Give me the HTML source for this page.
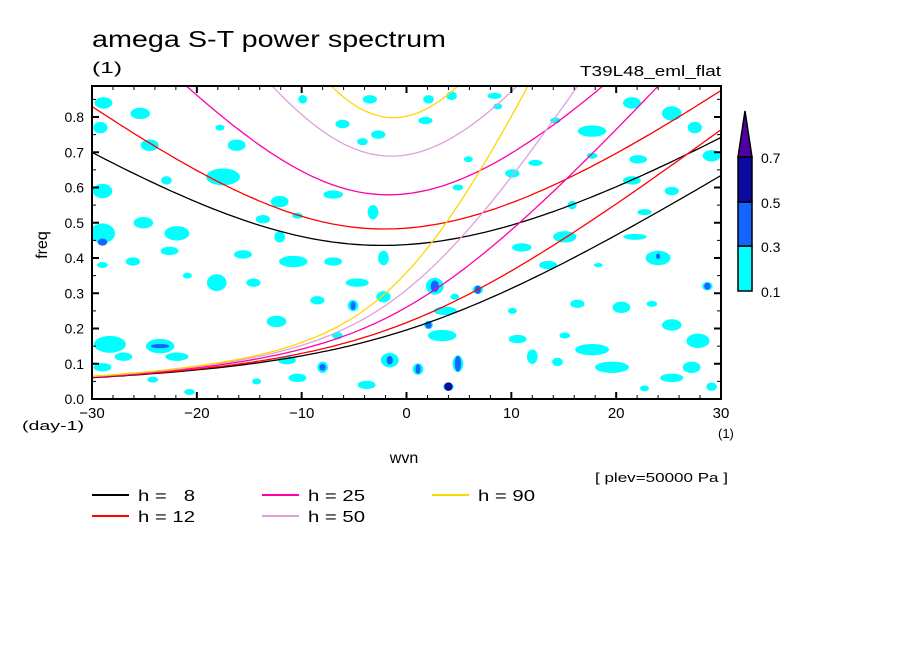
<!DOCTYPE html>
<html><head><meta charset="utf-8"><style>
body{margin:0;background:#fff}
svg{display:block;font-family:"Liberation Sans",sans-serif}
</style></head><body>
<svg id="chart" width="904" height="654" viewBox="0 0 904 654">
<defs><clipPath id="pc"><rect x="92" y="86" width="629" height="313"/></clipPath></defs>
<rect width="904" height="654" fill="#fff"/>
<text x="92" y="47" font-size="23" textLength="354" lengthAdjust="spacingAndGlyphs">amega S-T power spectrum</text>
<text x="92" y="73" font-size="16" textLength="30" lengthAdjust="spacingAndGlyphs">(1)</text>
<text x="580" y="76" font-size="15" textLength="141" lengthAdjust="spacingAndGlyphs">T39L48_eml_flat</text>
<g id="blobs" clip-path="url(#pc)"></g>
<g id="curves" clip-path="url(#pc)"></g>
<rect x="92" y="86" width="629" height="313" fill="none" stroke="#000" stroke-width="2"/>
<g id="axes"></g>
<text x="47" y="245" font-size="16" text-anchor="middle" transform="rotate(-90 47 245)">freq</text>
<text x="404" y="463" font-size="16" text-anchor="middle">wvn</text>
<text x="22" y="430" font-size="13" textLength="62" lengthAdjust="spacingAndGlyphs">(day-1)</text>
<text x="718" y="438" font-size="13">(1)</text>
<text x="595" y="482" font-size="13" textLength="133" lengthAdjust="spacingAndGlyphs">[ plev=50000 Pa ]</text>
<g id="legend"></g>
<g id="cbar"></g>
</svg>
<script>
const NS="http://www.w3.org/2000/svg";
const depths=[8,12,25,50,90];
const depthColors=["#000000","#ff0000","#ff00aa","#dda0dd","#ffd700"];
const levels=[0.1,0.3,0.5,0.7];
const levelColors=["#00ffff","#1464ff","#0a0aa0","#5000a0"];
const xTicks=[-30,-20,-10,0,10,20,30];
const yTicks=[0,0.1,0.2,0.3,0.4,0.5,0.6,0.7,0.8];
// blobs: [wavenumber, freq, halfwidth(k), halfheight(freq), level index]
const blobK=[-28.9,-25.4,-29.2,-24.5,-16.2,-17.8,-9.9,-3.5,-6.1,-2.7,-4.2,-17.5,-22.9,-29,-12.1,-7,-3.2,-29,-25.1,-21.9,-13.7,-12.1,-10.4,-22.6,-15.6,-10.8,-7,-2.2,-18.1,-14.6,-20.9,-26.1,-29,-8.5,-5.1,-4.7,-12.4,-2.2,-28.3,-23.5,-27,-29,-21.9,-11.4,-8,-10.4,-1.6,-3.8,-14.3,-24.2,-20.7,-6.6,2.1,4.3,1.8,8.4,8.7,17.7,14.2,21.5,25.3,27.5,29.1,22.1,12.3,10.1,17.7,5.9,21.5,25.3,4.9,15.8,22.7,15.1,11,24,21.8,13.5,18.3,2.7,4.6,6.8,16.3,20.5,28.7,23.4,3.7,10.1,3.4,2.1,10.6,15.1,17.7,19.6,25.3,27.8,27.2,12,14.4,4.9,1.1,4,25.3,29.1,22.7,-29,-23.5,-5.1,-8,-1.6,2.7,6.8,28.7,2.1,4.9,1.1,4,24];
const blobF=[0.84,0.81,0.77,0.72,0.72,0.77,0.85,0.85,0.78,0.75,0.73,0.63,0.62,0.59,0.56,0.58,0.53,0.47,0.50,0.47,0.51,0.46,0.52,0.42,0.41,0.39,0.39,0.40,0.33,0.33,0.35,0.39,0.38,0.28,0.265,0.33,0.22,0.29,0.155,0.15,0.12,0.09,0.12,0.11,0.09,0.06,0.11,0.04,0.05,0.055,0.02,0.18,0.85,0.86,0.79,0.86,0.83,0.76,0.79,0.84,0.81,0.77,0.69,0.68,0.67,0.64,0.69,0.68,0.62,0.59,0.60,0.55,0.53,0.46,0.43,0.40,0.46,0.38,0.38,0.32,0.29,0.31,0.27,0.26,0.32,0.27,0.25,0.25,0.18,0.21,0.17,0.18,0.14,0.09,0.21,0.165,0.09,0.12,0.105,0.10,0.085,0.035,0.06,0.035,0.03,0.445,0.15,0.265,0.09,0.11,0.32,0.31,0.32,0.21,0.10,0.085,0.035,0.405];
const blobW=[1.0,1.1,0.8,1.0,1.0,0.5,0.5,0.8,0.8,0.8,0.6,1.9,0.6,1.1,1.0,1.1,0.6,1.4,1.1,1.4,0.8,0.6,0.6,1.0,1.0,1.6,1.0,0.6,1.1,0.8,0.5,0.8,0.6,0.8,0.6,1.3,1.1,0.8,1.8,1.6,1.0,1.0,1.3,1.0,0.6,1.0,1.0,1.0,0.5,0.6,0.6,0.6,0.6,0.6,0.8,0.8,0.5,1.6,0.6,1.0,1.1,0.8,1.0,1.0,0.8,0.8,0.6,0.5,1.0,0.8,0.6,0.5,0.8,1.3,1.1,1.4,1.3,1.0,0.5,1.0,0.5,0.6,0.8,1.0,0.6,0.6,1.3,0.5,1.6,0.5,1.0,0.6,1.9,1.9,1.1,1.3,1.0,0.6,0.6,0.6,0.6,0.6,1.3,0.6,0.5,0.45,0.9,0.25,0.3,0.3,0.4,0.3,0.3,0.3,0.3,0.25,0.4,0.2];
const blobH=[0.019,0.019,0.019,0.019,0.019,0.01,0.014,0.014,0.014,0.014,0.012,0.028,0.014,0.024,0.019,0.014,0.024,0.033,0.019,0.024,0.014,0.019,0.01,0.014,0.014,0.019,0.014,0.024,0.028,0.014,0.01,0.014,0.01,0.014,0.019,0.014,0.019,0.019,0.028,0.024,0.014,0.014,0.014,0.014,0.019,0.014,0.024,0.014,0.01,0.01,0.01,0.012,0.014,0.014,0.012,0.01,0.01,0.019,0.01,0.019,0.024,0.019,0.019,0.014,0.01,0.014,0.01,0.01,0.014,0.014,0.01,0.014,0.01,0.019,0.014,0.024,0.01,0.014,0.007,0.028,0.01,0.014,0.014,0.019,0.014,0.01,0.014,0.01,0.019,0.014,0.014,0.01,0.019,0.019,0.019,0.024,0.019,0.024,0.014,0.028,0.019,0.014,0.014,0.014,0.01,0.01,0.006,0.012,0.01,0.012,0.016,0.012,0.01,0.01,0.022,0.014,0.012,0.008];
const blobL=[0,0,0,0,0,0,0,0,0,0,0,0,0,0,0,0,0,0,0,0,0,0,0,0,0,0,0,0,0,0,0,0,0,0,0,0,0,0,0,0,0,0,0,0,0,0,0,0,0,0,0,0,0,0,0,0,0,0,0,0,0,0,0,0,0,0,0,0,0,0,0,0,0,0,0,0,0,0,0,0,0,0,0,0,0,0,0,0,0,0,0,0,0,0,0,0,0,0,0,0,0,0,0,0,0,1,1,1,1,1,1,1,1,1,1,1,2,1];

const X0=92,X1=721,Y0=399;
const xs=k=>X0+(k+30)/60*(X1-X0);
const ys=f=>Y0-f*352.5;

function mk(tag,attrs,parent){const e=document.createElementNS(NS,tag);for(const a in attrs)e.setAttribute(a,attrs[a]);parent.appendChild(e);return e;}

// blobs
const gb=document.getElementById('blobs');
for(let i=0;i<blobK.length;i++){
  const s=blobL[i]===0?0.85:1;
  const e=mk('ellipse',{cx:xs(blobK[i]),cy:ys(blobF[i]),rx:s*blobW[i]*(X1-X0)/60,ry:s*blobH[i]*352.5,fill:levelColors[blobL[i]]},gb);
  
  
}

// dispersion curves
const g=9.81,beta=2.29e-11,R=6.371e6,toCpd=86400/(2*Math.PI);
function mrg(k,c){const kk=k/R;return (kk*c/2+Math.sqrt(kk*kk*c*c/4+beta*c))*toCpd;}
function ig(k,c,n){const kk=k/R;const a=kk*kk*c*c+(2*n+1)*beta*c,b=beta*kk*c*c;
  let w=2*Math.sqrt(a)+Math.cbrt(Math.abs(b))+1e-6;
  for(let it=0;it<60;it++){const f=w*w*w-a*w-b,d=3*w*w-a;w-=f/d;}
  return w*toCpd;}
const gc=document.getElementById('curves');
depths.forEach((h,j)=>{
  const c=Math.sqrt(g*h);
  [k=>mrg(k,c),k=>ig(k,c,2)].forEach((fn,m)=>{
    let d="";for(let k=-30;k<=30.001;k+=0.5){d+=(d?"L":"M")+xs(k).toFixed(1)+","+ys(fn(k)).toFixed(1);}
    const p=mk('path',{d:d,fill:"none",stroke:depthColors[j],"stroke-width":1.3},gc);
    
    
  });
});

// axes
const ga=document.getElementById('axes');
for(let k=-30;k<=30;k+=2){const maj=k%10===0;const L=maj?7:4;
  const t=mk('line',{x1:xs(k),x2:xs(k),y1:Y0,y2:Y0-L,stroke:"#000","stroke-width":maj?2:1},ga);
  
  const t2=mk('line',{x1:xs(k),x2:xs(k),y1:86,y2:86+L,stroke:"#000","stroke-width":maj?2:1},ga);
  }
xTicks.forEach(k=>{const t=mk('text',{x:xs(k),y:418,"font-size":15,"text-anchor":"middle"},ga);t.textContent=(k<0?"\u2212":"")+Math.abs(k);
  });
for(let i=0;i<=17;i++){const f=i*0.05;const maj=i%2===0;const L=maj?7:4;
  const t=mk('line',{x1:X0,x2:X0+L,y1:ys(f),y2:ys(f),stroke:"#000","stroke-width":maj?2:1},ga);
  
  const t2=mk('line',{x1:X1,x2:X1-L,y1:ys(f),y2:ys(f),stroke:"#000","stroke-width":maj?2:1},ga);
  }
yTicks.forEach(f=>{const t=mk('text',{x:84,y:ys(f)+5,"font-size":14,"text-anchor":"end"},ga);t.textContent=f.toFixed(1);
  });

// legend
const gl=document.getElementById('legend');
const lx=[92,262,432],lyy=[495,516];
depths.forEach((h,j)=>{const col=Math.floor(j/2),row=j%2;
  const l=mk('line',{x1:lx[col],x2:lx[col]+37,y1:lyy[row],y2:lyy[row],stroke:depthColors[j],"stroke-width":2},gl);
  
  const t=mk('text',{x:lx[col]+46,y:lyy[row]+6,"font-size":16,textLength:57,lengthAdjust:"spacingAndGlyphs"},gl);
  t.textContent="h = "+(h<10?"\u2007":"")+h;
  });

// colorbar
const gcb=document.getElementById('cbar');
const cbY=[291,246,202,157];
for(let i=0;i<3;i++){const r=mk('rect',{x:738,y:cbY[i+1],width:14,height:cbY[i]-cbY[i+1],fill:levelColors[i],stroke:"#000","stroke-width":1.5},gcb);
  }
const tri=mk('polygon',{points:"738,157 752,157 745,111",fill:levelColors[3],stroke:"#000","stroke-width":1.5},gcb);

levels.forEach((v,i)=>{const t=mk('text',{x:761,y:cbY[i]+6,"font-size":14},gcb);t.textContent=v.toFixed(1);
  });
</script>
</body></html>
